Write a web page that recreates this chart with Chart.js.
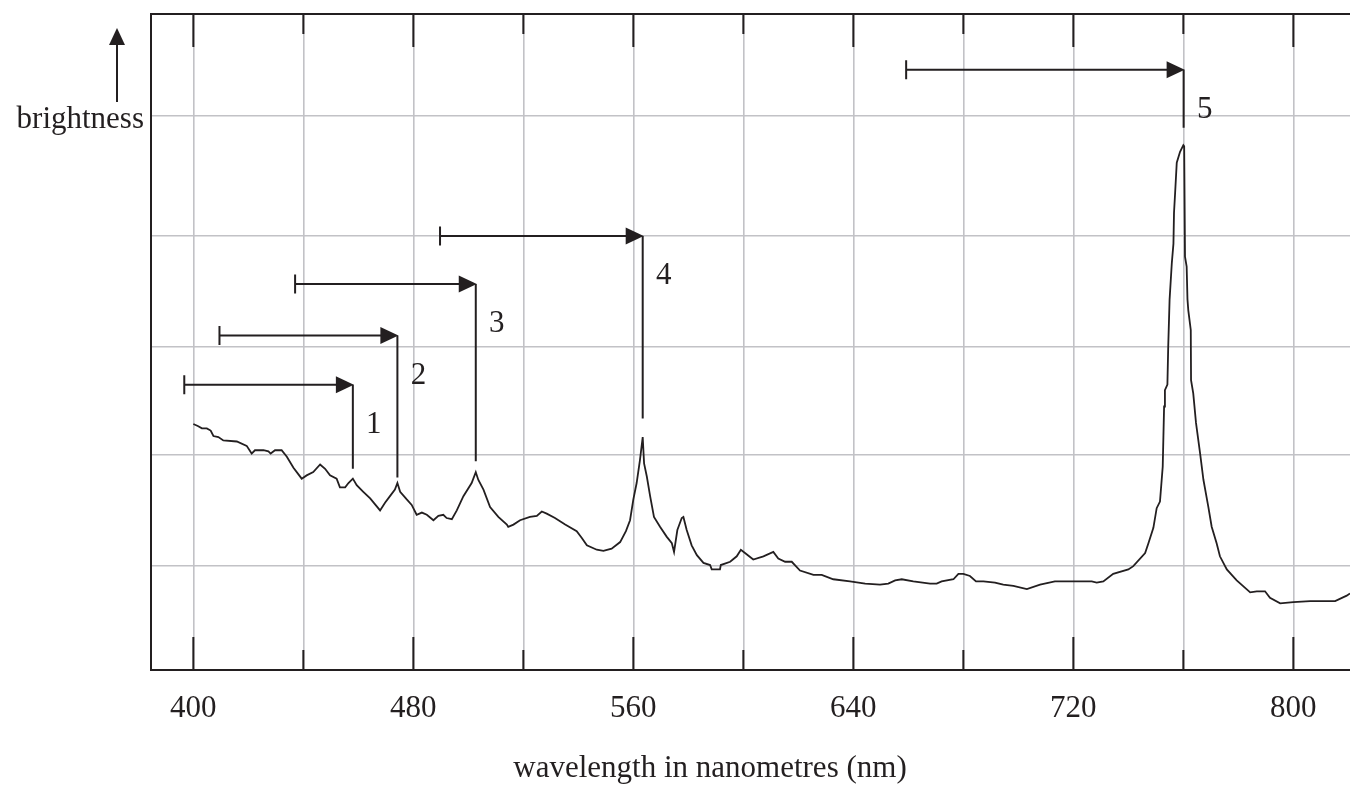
<!DOCTYPE html>
<html>
<head>
<meta charset="utf-8">
<script src="https://cdn.jsdelivr.net/npm/chart.js@4.4.0/dist/chart.umd.min.js"></script>
<style>
  html, body { margin: 0; padding: 0; background: #fff; }
  #wrap { width: 1350px; height: 788px; position: relative; }
</style>
</head>
<body>
<div id="wrap"><canvas id="spectrumChart"></canvas></div>
<script>
// spectrum trace (wavelength in nm, brightness in arbitrary units)
const wavelengths = [
    400.0, 401.8, 403.1, 404.9, 406.3, 407.3, 409.1, 410.9, 415.8, 419.4,
    421.2, 422.4, 425.5, 427.3, 428.1, 429.7, 432.1, 434.0, 436.4, 439.4,
    441.2, 443.6, 446.1, 447.9, 449.7, 452.1, 453.3, 455.2, 456.4, 458.0,
    459.4, 461.8, 464.3, 467.9, 469.7, 471.5, 473.3, 474.2, 475.2, 477.6,
    479.4, 481.2, 483.1, 484.9, 487.3, 489.1, 490.9, 492.1, 494.0, 495.8,
    498.2, 501.2, 502.7, 503.6, 505.5, 507.9, 510.9, 514.0, 514.5, 516.4,
    518.8, 522.4, 524.9, 526.7, 528.5, 531.5, 535.2, 539.4, 541.2, 543.1,
    546.7, 549.1, 552.1, 555.2, 557.3, 558.8, 560.0, 561.2, 562.4, 563.4,
    563.9, 564.9, 566.1, 567.5, 569.7, 572.1, 574.0, 574.8, 576.0, 577.6,
    578.2, 579.4, 581.2, 583.1, 585.5, 587.9, 588.5, 591.5, 591.8, 595.2,
    597.6, 599.1, 600.6, 603.6, 607.3, 610.9, 612.7, 615.2, 617.6, 620.6,
    625.5, 628.5, 632.7, 638.8, 644.3, 649.7, 652.7, 655.2, 657.6, 661.8,
    667.9, 670.3, 672.1, 676.4, 678.2, 680.0, 682.4, 684.6, 687.3, 691.5,
    694.5, 698.2, 703.1, 707.9, 713.3, 721.2, 726.7, 728.5, 730.9, 734.5,
    740.0, 741.8, 746.1, 747.3, 749.1, 750.3, 751.5, 752.5, 753.0, 753.3,
    754.2, 754.5, 755.0, 755.8, 756.4, 756.6, 757.0, 757.6, 758.8, 760.0,
    760.3, 760.6, 761.2, 761.5, 761.8, 762.7, 762.8, 763.6, 764.6, 766.1,
    767.3, 769.1, 770.3, 772.1, 773.3, 775.8, 779.4, 784.3, 786.7, 789.7,
    791.5, 795.2, 800.0, 806.1, 815.2, 819.4, 820.6
];
const brightness = [
    2.25, 2.23, 2.21, 2.21, 2.19, 2.14, 2.13, 2.10, 2.09, 2.05,
    1.98, 2.01, 2.01, 2.00, 1.98, 2.01, 2.01, 1.95, 1.85, 1.75,
    1.78, 1.81, 1.88, 1.84, 1.78, 1.75, 1.67, 1.67, 1.71, 1.75,
    1.69, 1.63, 1.57, 1.46, 1.53, 1.59, 1.65, 1.71, 1.63, 1.56,
    1.51, 1.42, 1.44, 1.42, 1.37, 1.41, 1.42, 1.39, 1.38, 1.46,
    1.59, 1.71, 1.81, 1.74, 1.65, 1.49, 1.40, 1.33, 1.31, 1.33,
    1.37, 1.40, 1.41, 1.45, 1.43, 1.39, 1.33, 1.27, 1.21, 1.14,
    1.10, 1.09, 1.11, 1.17, 1.27, 1.37, 1.56, 1.71, 1.92, 2.13,
    1.89, 1.77, 1.59, 1.40, 1.31, 1.22, 1.16, 1.08, 1.28, 1.39,
    1.40, 1.28, 1.14, 1.05, 0.98, 0.96, 0.92, 0.92, 0.96, 0.99,
    1.04, 1.10, 1.07, 1.01, 1.04, 1.08, 1.02, 0.99, 0.99, 0.91,
    0.87, 0.87, 0.83, 0.81, 0.79, 0.78, 0.79, 0.82, 0.83, 0.81,
    0.79, 0.79, 0.81, 0.83, 0.88, 0.88, 0.86, 0.81, 0.81, 0.80,
    0.78, 0.77, 0.74, 0.78, 0.81, 0.81, 0.81, 0.80, 0.81, 0.88,
    0.92, 0.95, 1.07, 1.16, 1.30, 1.48, 1.54, 1.86, 2.41, 2.56,
    2.61, 2.96, 3.39, 3.72, 3.90, 4.18, 4.36, 4.64, 4.74, 4.80,
    4.79, 3.78, 3.69, 3.39, 3.29, 3.11, 2.65, 2.53, 2.26, 1.98,
    1.74, 1.49, 1.31, 1.16, 1.04, 0.92, 0.82, 0.71, 0.72, 0.72,
    0.66, 0.61, 0.62, 0.63, 0.63, 0.68, 0.70
];

// grid every 40 nm, numbers every 80 nm
const xTicks = [400, 440, 480, 520, 560, 600, 640, 680, 720, 760, 800];
// unlabelled horizontal grid lines (hand-drawn spacing of the original)
const yTicks = [0.95, 1.97, 2.96, 3.97, 5.07];

// numbered peaks: arrow runs from arrowStartNm to the peak, then a line drops towards the peak
const peakLabels = ["1", "2", "3", "4", "5"];
const peakNm = [458.0, 474.2, 502.7, 563.4, 760.1];
const arrowStartNm = [396.7, 409.5, 437.0, 489.7, 659.2];
const arrowLevel = [2.61, 3.06, 3.53, 3.97, 5.49];
const lineEndLevel = [1.84, 1.76, 1.91, 2.30, 4.96];

const INK = "#231f20";
const SERIF = "'Liberation Serif', 'Times New Roman', serif";

const decorations = {
    id: "decorations",
    afterDraw(chart) {
        const { ctx, chartArea: a, scales: { x, y } } = chart;
        ctx.save();
        ctx.strokeStyle = INK;
        ctx.fillStyle = INK;
        ctx.lineWidth = 2;

        // top frame line
        ctx.beginPath();
        ctx.moveTo(a.left, a.top);
        ctx.lineTo(a.right, a.top);
        ctx.stroke();

        // black tick marks inside top and bottom edges
        xTicks.forEach(v => {
            const px = x.getPixelForValue(v);
            const len = v % 80 === 0 ? 33 : 20;
            ctx.beginPath();
            ctx.moveTo(px, a.top);
            ctx.lineTo(px, a.top + len);
            ctx.moveTo(px, a.bottom);
            ctx.lineTo(px, a.bottom - len);
            ctx.stroke();
        });

        // peak arrows
        ctx.font = "31px " + SERIF;
        ctx.textAlign = "center";
        ctx.textBaseline = "middle";
        peakNm.forEach((nm, i) => {
            const x0 = x.getPixelForValue(arrowStartNm[i]);
            const x1 = x.getPixelForValue(nm);
            const yA = y.getPixelForValue(arrowLevel[i]);
            const yB = y.getPixelForValue(lineEndLevel[i]);
            ctx.beginPath();
            ctx.moveTo(x0, yA - 9.5);
            ctx.lineTo(x0, yA + 9.5);
            ctx.moveTo(x0, yA);
            ctx.lineTo(x1 - 12, yA);
            ctx.moveTo(x1, yA);
            ctx.lineTo(x1, yB);
            ctx.stroke();
            ctx.beginPath();
            ctx.moveTo(x1 + 1, yA);
            ctx.lineTo(x1 - 17, yA - 8.5);
            ctx.lineTo(x1 - 17, yA + 8.5);
            ctx.closePath();
            ctx.fill();
            ctx.fillText(peakLabels[i], x1 + 21, yA + 40);
        });

        // y axis caption with upward arrow
        const ax = a.left - 34;
        ctx.beginPath();
        ctx.moveTo(ax, a.top + 88);
        ctx.lineTo(ax, a.top + 28);
        ctx.stroke();
        ctx.beginPath();
        ctx.moveTo(ax, a.top + 14);
        ctx.lineTo(ax - 8, a.top + 31);
        ctx.lineTo(ax + 8, a.top + 31);
        ctx.closePath();
        ctx.fill();
        ctx.textAlign = "right";
        ctx.textBaseline = "alphabetic";
        ctx.fillText("brightness", a.left - 7, a.top + 114);

        // x axis caption
        ctx.textAlign = "center";
        ctx.fillText("wavelength in nanometres (nm)", a.left + 559, a.bottom + 107);
        ctx.restore();
    }
};

new Chart(document.getElementById("spectrumChart"), {
    type: "line",
    data: {
        datasets: [{
            data: wavelengths.map((w, i) => ({ x: w, y: brightness[i] })),
            borderColor: INK,
            borderWidth: 1.8,
            pointRadius: 0,
            tension: 0,
            fill: false,
        }],
    },
    options: {
        responsive: true,
        maintainAspectRatio: false,
        animation: false,
        layout: { padding: { top: 14, right: 0, left: 0, bottom: 0 } },
        scales: {
            x: {
                type: "linear",
                min: 384.6,
                max: 820.6,
                afterBuildTicks: (scale) => { scale.ticks = xTicks.map(v => ({ value: v })); },
                afterFit: (scale) => { scale.height = 118; },
                ticks: {
                    autoSkip: false,
                    maxRotation: 0,
                    padding: 20,
                    color: INK,
                    font: { family: SERIF, size: 31 },
                    callback: (value) => value % 80 === 0 ? String(value) : "",
                },
                grid: { color: "#c2c2c6", lineWidth: 1.6, drawTicks: false },
                border: { color: INK, width: 2 },
            },
            y: {
                min: 0,
                max: 6,
                afterBuildTicks: (scale) => { scale.ticks = yTicks.map(v => ({ value: v })); },
                afterFit: (scale) => { scale.width = 151; },
                ticks: { display: false },
                grid: { color: "#c2c2c6", lineWidth: 1.6, drawTicks: false },
                border: { color: INK, width: 2 },
            },
        },
        plugins: {
            legend: { display: false },
            tooltip: { enabled: false },
        },
    },
    plugins: [decorations],
});
</script>
</body>
</html>
